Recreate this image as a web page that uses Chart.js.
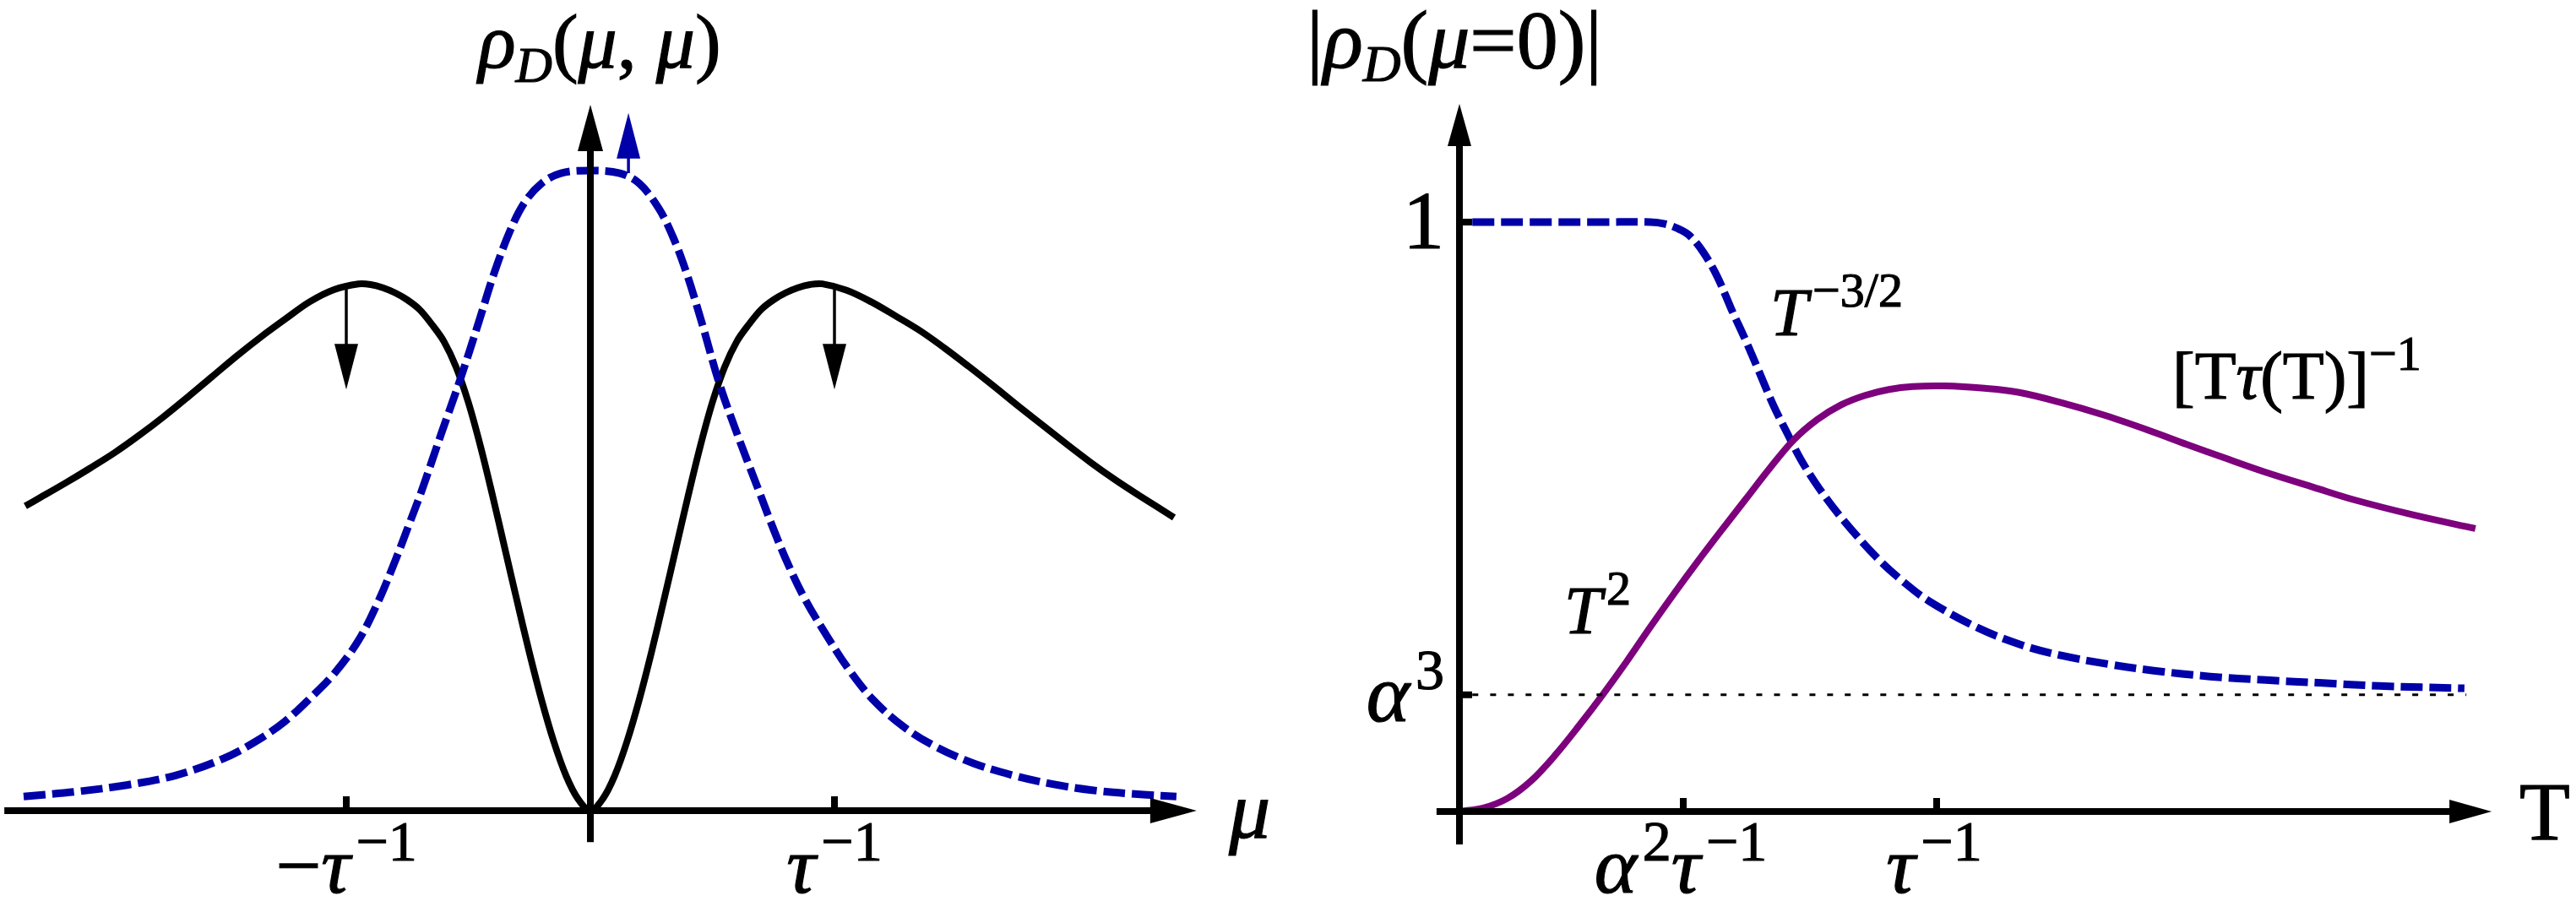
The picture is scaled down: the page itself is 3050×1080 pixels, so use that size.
<!DOCTYPE html>
<html>
<head>
<meta charset="utf-8">
<script src="https://cdn.jsdelivr.net/npm/chart.js@4.4.1/dist/chart.umd.min.js"></script>
<style>
  html, body { margin: 0; padding: 0; background: #fff; }
  body { width: 3050px; height: 1080px; position: relative; overflow: hidden; }
  .panel { position: absolute; top: 0; height: 1080px; }
  #left { left: 0; width: 1520px; }
  #right { left: 1520px; width: 1530px; }
</style>
</head>
<body>
<div class="panel" id="left"><canvas id="muChart" width="1520" height="1080"></canvas></div>
<div class="panel" id="right"><canvas id="tChart" width="1530" height="1080"></canvas></div>
<script>
// ---- left panel: rho_D(mu, mu), mu in units of 1/tau ----
const muSolidX = [-2.315, -2.25, -2.15, -2.05, -1.95, -1.85, -1.75, -1.65, -1.55, -1.45, -1.35, -1.25, -1.15, -1.05, -0.95,
                  -0.90, -0.85, -0.80, -0.75, -0.70, -0.65, -0.60, -0.55, -0.50, -0.45, -0.40, -0.35, -0.30, -0.25, -0.20, -0.15, -0.10, -0.05, 0,
                  0.05, 0.10, 0.15, 0.20, 0.25, 0.30, 0.35, 0.40, 0.45, 0.50, 0.55, 0.60, 0.65, 0.70, 0.75, 0.80, 0.85, 0.90, 0.95,
                  1.05, 1.15, 1.25, 1.35, 1.45, 1.55, 1.65, 1.75, 1.85, 1.95, 2.05, 2.15, 2.25, 2.391];
const muSolidY = [0.476, 0.490, 0.512, 0.535, 0.559, 0.586, 0.615, 0.646, 0.678, 0.710, 0.740, 0.768, 0.795, 0.814, 0.823,
                  0.822, 0.817, 0.809, 0.798, 0.783, 0.760, 0.733, 0.693, 0.638, 0.569, 0.491, 0.409, 0.327, 0.247, 0.173, 0.108, 0.055, 0.018, 0,
                  0.018, 0.055, 0.108, 0.173, 0.247, 0.327, 0.409, 0.491, 0.569, 0.638, 0.693, 0.733, 0.760, 0.783, 0.798, 0.809, 0.817, 0.822, 0.823,
                  0.813, 0.795, 0.773, 0.750, 0.723, 0.694, 0.664, 0.633, 0.603, 0.573, 0.544, 0.517, 0.492, 0.458];

const muDashedX = [-2.322, -2.10, -1.90, -1.70, -1.50, -1.363, -1.25, -1.15, -1.05, -0.95, -0.87, -0.80, -0.745, -0.69, -0.61, -0.533,
                   -0.46, -0.394, -0.33, -0.27, -0.20, -0.12, 0,
                   0.12, 0.20, 0.28, 0.34, 0.394, 0.46, 0.526, 0.60, 0.689, 0.75, 0.81, 0.88, 0.969, 1.06, 1.159, 1.28, 1.415,
                   1.57, 1.734, 1.90, 2.055, 2.23, 2.401];
const muDashedY = [0.022, 0.030, 0.040, 0.055, 0.082, 0.110, 0.140, 0.175, 0.214, 0.266, 0.326, 0.390, 0.445, 0.501, 0.590, 0.674,
                   0.760, 0.840, 0.905, 0.950, 0.980, 0.996, 1.0,
                   0.996, 0.980, 0.941, 0.895, 0.840, 0.758, 0.670, 0.590, 0.501, 0.440, 0.385, 0.330, 0.273, 0.220, 0.173, 0.132, 0.100,
                   0.074, 0.055, 0.041, 0.032, 0.026, 0.022];

const muTicks = [-1, 1];
const muTickLabels = ['−*τ*^{−1}', '*τ*^{−1}'];
// arrows showing how the curves move
const shiftArrowX = [-1, 1];
const shiftArrowFrom = 0.815, shiftArrowTo = 0.658;
const riseArrowX = 0.156, riseArrowFrom = 0.996, riseArrowTo = 1.090;

// ---- right panel: |rho_D(mu=0)| vs T, T in units of 1/tau ----
const tSolidX = [0, 0.05, 0.10, 0.15, 0.20, 0.25, 0.30, 0.35, 0.40, 0.45, 0.50, 0.55, 0.60, 0.65, 0.70, 0.75, 0.80, 0.85, 0.90, 0.95, 1.016,
                 1.10, 1.173, 1.26, 1.349, 1.44, 1.524, 1.61, 1.699, 1.79, 1.874, 2.00, 2.129];
const tSolidY = [0, 0.006, 0.022, 0.052, 0.095, 0.145, 0.198, 0.254, 0.313, 0.370, 0.425, 0.478, 0.530, 0.582, 0.630, 0.665, 0.690, 0.706, 0.716, 0.721, 0.722,
                 0.718, 0.711, 0.694, 0.673, 0.648, 0.623, 0.598, 0.573, 0.550, 0.529, 0.503, 0.480];

const tDashedX = [0.027, 0.15, 0.30, 0.40, 0.43, 0.455, 0.481, 0.51, 0.54, 0.57, 0.60, 0.628, 0.658, 0.688, 0.717, 0.754, 0.807, 0.878,
                  0.93, 0.984, 1.088, 1.18, 1.265, 1.36, 1.455, 1.573, 1.690, 1.809, 1.927, 2.106];
const tDashedY = [1.0, 1.0, 1.0, 1.0, 0.997, 0.990, 0.978, 0.950, 0.908, 0.852, 0.799, 0.746, 0.689, 0.640, 0.595, 0.548, 0.492, 0.428,
                  0.390, 0.357, 0.311, 0.282, 0.264, 0.250, 0.239, 0.229, 0.223, 0.218, 0.213, 0.209];

const alpha3 = 0.198;
const alpha3LineX = [0.027, 2.110];
const tTicks = [0.469, 1];
const tTickLabels = ['*α*^{2}*τ*^{−1}', '*τ*^{−1}'];
const yTicks = [1, alpha3];
const yTickLabels = ['1', '*α*^{3}'];

const SERIF = '"Liberation Serif", "Times New Roman", serif';
const BLUE = '#0000a8';
const PURPLE = '#7d007d';

function pts(xs, ys) {
    return xs.map((x, i) => ({ x: x, y: ys[i] }));
}

// tiny markup: *italic*, ^{sup}, _{sub}
function parseMath(src) {
    const runs = [];
    let it = false, mode = 0, buf = '';
    const flush = () => { if (buf) { runs.push({ t: buf, it: it, mode: mode }); buf = ''; } };
    for (let i = 0; i < src.length; i++) {
        const c = src[i];
        if (c === '*') { flush(); it = !it; }
        else if ((c === '^' || c === '_') && src[i + 1] === '{') { flush(); mode = c === '^' ? 1 : -1; i++; }
        else if (c === '}' && mode !== 0) { flush(); mode = 0; }
        else buf += c;
    }
    flush();
    return runs;
}

function drawMath(ctx, src, x, y, align, st) {
    const runs = parseMath(src);
    const fontOf = r => (r.it ? 'italic ' : '') + (r.mode === 0 ? st.size : st.small) + 'px ' + SERIF;
    let w = 0;
    runs.forEach((r, i) => {
        ctx.font = fontOf(r);
        r.dx = (r.mode === 1 && i > 0 && runs[i - 1].it) ? st.size * 0.07 : 0;
        r.w = ctx.measureText(r.t).width;
        w += r.dx + r.w;
    });
    let cx = align === 'center' ? x - w / 2 : align === 'right' ? x - w : x;
    ctx.save();
    ctx.fillStyle = '#000';
    ctx.strokeStyle = '#000';
    ctx.lineWidth = 1.2;
    ctx.textAlign = 'left';
    ctx.textBaseline = 'alphabetic';
    runs.forEach(r => {
        ctx.font = fontOf(r);
        cx += r.dx;
        const dy = r.mode === 1 ? st.supDy : r.mode === -1 ? st.subDy : 0;
        ctx.fillText(r.t, cx, y + dy);
        ctx.strokeText(r.t, cx, y + dy);
        cx += r.w;
    });
    ctx.restore();
}

function head(ctx, tx, ty, dir, len, half) {
    ctx.beginPath();
    ctx.moveTo(tx, ty);
    if (dir === 'right') { ctx.lineTo(tx - len, ty - half); ctx.lineTo(tx - len, ty + half); }
    if (dir === 'up') { ctx.lineTo(tx - half, ty + len); ctx.lineTo(tx + half, ty + len); }
    if (dir === 'down') { ctx.lineTo(tx - half, ty - len); ctx.lineTo(tx + half, ty - len); }
    ctx.closePath();
    ctx.fill();
}

function seg(ctx, x1, y1, x2, y2) {
    ctx.beginPath();
    ctx.moveTo(x1, y1);
    ctx.lineTo(x2, y2);
    ctx.stroke();
}

// axes with arrow heads; ext gives the data extents of the axis lines
function drawAxes(ctx, xs, ys, ext) {
    const x0 = xs.getPixelForValue(0), y0 = ys.getPixelForValue(0);
    const xa = xs.getPixelForValue(ext.xFrom), xb = xs.getPixelForValue(ext.xTo);
    const ya = ys.getPixelForValue(ext.yFrom), yb = ys.getPixelForValue(ext.yTo);
    ctx.save();
    ctx.strokeStyle = '#000';
    ctx.fillStyle = '#000';
    ctx.lineWidth = 8;
    ctx.lineCap = 'butt';
    seg(ctx, xa, y0, xb - ext.head + 4, y0);
    head(ctx, xb, y0, 'right', ext.head, ext.half);
    seg(ctx, x0, ya, x0, yb + ext.head - 4);
    head(ctx, x0, yb, 'up', ext.head, ext.half);
    ctx.restore();
}

function tickX(ctx, xs, ys, v, len) {
    const px = xs.getPixelForValue(v), y0 = ys.getPixelForValue(0);
    ctx.save();
    ctx.lineWidth = 8;
    ctx.strokeStyle = '#000';
    seg(ctx, px, y0, px, y0 - len);
    ctx.restore();
}

function tickY(ctx, xs, ys, v, len) {
    const py = ys.getPixelForValue(v), x0 = xs.getPixelForValue(0);
    ctx.save();
    ctx.lineWidth = 8;
    ctx.strokeStyle = '#000';
    seg(ctx, x0, py, x0 + len, py);
    ctx.restore();
}

function thinArrow(ctx, px, from, to, color) {
    const dir = to < from ? 'up' : 'down';
    const len = 54, half = 14;
    ctx.save();
    ctx.strokeStyle = color;
    ctx.fillStyle = color;
    ctx.lineWidth = 3.5;
    seg(ctx, px, from, px, dir === 'up' ? to + len - 2 : to - len + 2);
    head(ctx, px, to, dir, len, half);
    ctx.restore();
}

function baseOptions(xmin, xmax, ymin, ymax) {
    return {
        responsive: false,
        animation: false,
        devicePixelRatio: 1,
        events: [],
        layout: { padding: 0 },
        plugins: { legend: { display: false }, tooltip: { enabled: false } },
        elements: {
            point: { radius: 0 },
            line: { borderCapStyle: 'butt', tension: 0.35 }
        },
        scales: {
            x: { type: 'linear', display: false, min: xmin, max: xmax },
            y: { type: 'linear', display: false, min: ymin, max: ymax }
        }
    };
}

const tickStyle = { size: 96, small: 68, supDy: -38, subDy: 0 };

new Chart(document.getElementById('muChart'), {
    type: 'scatter',
    data: {
        datasets: [
            { data: pts(muDashedX, muDashedY), showLine: true, borderColor: BLUE, borderWidth: 9, borderDash: [26, 8] },
            { data: pts(muSolidX, muSolidY), showLine: true, borderColor: '#000', borderWidth: 8 }
        ]
    },
    options: baseOptions(-2.4187, 2.8408, -0.1583, 1.2665),
    plugins: [{
        id: 'muExtras',
        afterDatasetsDraw(chart) {
            const { ctx } = chart;
            const xs = chart.scales.x, ys = chart.scales.y;
            drawAxes(ctx, xs, ys, { xFrom: -2.401, xTo: 2.484, yFrom: -0.049, yTo: 1.103, head: 55, half: 15 });
            muTicks.forEach((v, i) => {
                tickX(ctx, xs, ys, v, 17);
                drawMath(ctx, muTickLabels[i], xs.getPixelForValue(v), 1057, 'center', tickStyle);
            });
            shiftArrowX.forEach(v => thinArrow(ctx, xs.getPixelForValue(v), ys.getPixelForValue(shiftArrowFrom), ys.getPixelForValue(shiftArrowTo), '#000'));
            thinArrow(ctx, xs.getPixelForValue(riseArrowX), ys.getPixelForValue(riseArrowFrom), ys.getPixelForValue(riseArrowTo), BLUE);
            drawMath(ctx, '*ρ*_{*D*}(*μ*, *μ*)', 710, 80, 'center', { size: 92, small: 60, supDy: 0, subDy: 17 });
            drawMath(ctx, '*μ*', 1455, 992, 'left', { size: 98, small: 60, supDy: 0, subDy: 0 });
        }
    }]
});

new Chart(document.getElementById('tChart'), {
    type: 'scatter',
    data: {
        datasets: [
            { data: pts(alpha3LineX, [alpha3, alpha3]), showLine: true, borderColor: '#000', borderWidth: 3, borderDash: [7, 14] },
            { data: pts(tSolidX, tSolidY), showLine: true, borderColor: PURPLE, borderWidth: 8 },
            { data: pts(tDashedX, tDashedY), showLine: true, borderColor: BLUE, borderWidth: 9, borderDash: [26, 8] }
        ]
    },
    options: baseOptions(-0.3681, 2.3398, -0.1705, 1.3768),
    plugins: [{
        id: 'tExtras',
        afterDatasetsDraw(chart) {
            const { ctx } = chart;
            const xs = chart.scales.x, ys = chart.scales.y;
            const off = 1520; // canvas offset inside the page
            drawAxes(ctx, xs, ys, { xFrom: -0.048, xTo: 2.163, yFrom: -0.056, yTo: 1.2006, head: 50, half: 14 });
            tTicks.forEach((v, i) => {
                tickX(ctx, xs, ys, v, 16);
                drawMath(ctx, tTickLabels[i], xs.getPixelForValue(v) - 3, 1057, 'center', tickStyle);
            });
            yTicks.forEach((v, i) => {
                tickY(ctx, xs, ys, v, 15);
                const py = ys.getPixelForValue(v);
                drawMath(ctx, yTickLabels[i], 1710 - off, py + 31, 'right', { size: 98, small: 68, supDy: -38, subDy: 0 });
            });
            drawMath(ctx, '|*ρ*_{*D*}(*μ*=0)|', 1722 - off, 80, 'center', { size: 98, small: 62, supDy: 0, subDy: 16 });
            drawMath(ctx, 'T', 2983 - off, 994, 'left', { size: 98, small: 60, supDy: 0, subDy: 0 });
            const note = { size: 80, small: 58, supDy: -34, subDy: 0 };
            drawMath(ctx, '*T*^{−3/2}', 2096 - off, 397, 'left', note);
            drawMath(ctx, '[T*τ*(T)]^{−1}', 2572 - off, 472, 'left', note);
            drawMath(ctx, '*T*^{2}', 1852 - off, 750, 'left', note);
        }
    }]
});
</script>
</body>
</html>
